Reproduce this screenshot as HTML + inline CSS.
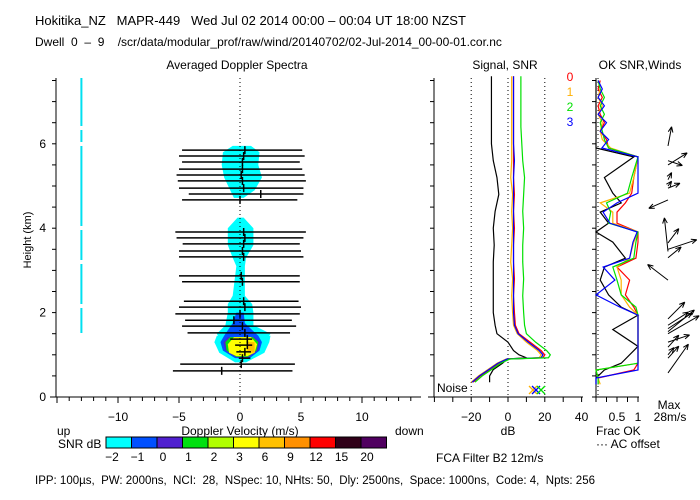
<!DOCTYPE html>
<html><head><meta charset="utf-8">
<style>
html,body{margin:0;padding:0;background:#fff;}
svg{display:block;font-family:"Liberation Sans",sans-serif;}
text{font-size:12px;white-space:pre;}
</style></head>
<body>
<svg id="chart" width="700" height="500" viewBox="0 0 700 500" xmlns="http://www.w3.org/2000/svg" xml:space="preserve">
<text x="35" y="25" style="font-size:13px">Hokitika_NZ   MAPR-449   Wed Jul 02 2014 00:00 – 00:04 UT 18:00 NZST</text>
<text x="35" y="46" style="font-size:12px">Dwell  0  –  9    /scr/data/modular_prof/raw/wind/20140702/02-Jul-2014_00-00-01.cor.nc</text>
<text x="237" y="69" text-anchor="middle">Averaged Doppler Spectra</text>
<text x="505" y="69" text-anchor="middle">Signal, SNR</text>
<text x="640" y="69" text-anchor="middle">OK SNR,Winds</text>
<text transform="translate(31,240) rotate(-90)" text-anchor="middle" style="font-size:11px">Height (km)</text>
<text x="240" y="435" text-anchor="middle">Doppler Velocity (m/s)</text>
<text x="57" y="435">up</text>
<text x="395" y="435">down</text>
<text x="508" y="435" text-anchor="middle">dB</text>
<text x="596" y="435">Frac OK</text>
<text x="596" y="448">··· AC offset</text>
<text x="669" y="409" text-anchor="middle">Max</text>
<text x="670" y="421" text-anchor="middle">28m/s</text>
<text x="58" y="448">SNR dB</text>
<text x="436" y="462">FCA Filter B2 12m/s</text>
<text x="437" y="392">Noise</text>
<text x="35" y="484" style="font-size:11.5px">IPP: 100µs,  PW: 2000ns,  NCI:  28,  NSpec: 10, NHts: 50,  Dly: 2500ns,  Space: 1000ns,  Code: 4,  Npts: 256</text>
<g id="g"></g>
</svg>
<script>
// ---- data ----
const specH =[5.85,5.71,5.57,5.40,5.26,5.12,4.95,4.81,4.67,3.91,3.77,3.63,3.46,3.32,2.87,2.73,2.27,2.13,1.97,1.82,1.68,1.52,1.37,1.23,1.07,0.92,0.78,0.62];
const specLo=[-4.75,-5.0,-4.75,-5.0,-5.2,-5.1,-5.0,-4.2,-4.75,-5.3,-5.2,-4.7,-5.0,-5.0,-5.0,-4.75,-4.6,-5.0,-5.3,-4.5,-4.75,-4.3,-0.8,-0.4,-0.3,-0.1,-4.9,-5.5];
const specHi=[5.1,5.3,4.9,5.1,5.3,5.4,5.2,5.2,4.7,5.4,5.2,4.9,5.0,5.2,4.9,4.9,4.8,5.0,4.9,4.25,4.6,4.1,1.0,1.0,0.9,0.85,4.5,4.3];
const specPk=[0.4,0.3,0.2,0.2,0.1,0.2,0.3,1.7,0.0,0.3,0.4,0.3,0.2,0.3,0.1,0.2,0.3,0.4,0.0,-0.5,0.2,0.4,0.6,0.6,0.4,0.2,0.1,-1.5];
const cyanBlobs=[
 [[4.72,-0.5,0.3],[4.9,-0.8,1.2],[5.2,-1.3,1.8],[5.5,-1.5,1.5],[5.8,-1.4,1.6],[5.95,-0.6,0.9]],
 [[1.3,-1.5,2.0],[1.5,-1.9,2.5],[1.7,-1.2,1.1],[2.0,-1.0,1.1],[2.2,-1.0,1.0],[2.4,-0.6,0.4],[3.1,-0.3,0.4],[3.3,-0.6,0.5],[3.6,-1.0,1.1],[4.0,-1.0,1.1],[4.25,-0.2,0.3]],
 [[0.82,-0.4,0.5],[1.05,-1.7,2.0],[1.3,-2.1,2.4],[1.45,-1.9,2.5]]
];
const blueBlob=[[0.92,-0.4,0.8],[1.1,-1.4,1.6],[1.3,-1.6,1.8],[1.45,-1.3,1.5],[1.75,-0.6,0.4],[2.0,-0.3,0.3]];
const indigoBlob=[[0.94,-0.3,0.7],[1.1,-1.2,1.45],[1.3,-1.35,1.6],[1.42,-1.0,1.2]];
const greenBlob=[[0.95,-0.3,0.65],[1.1,-1.1,1.35],[1.3,-1.2,1.5],[1.42,-0.8,1.05]];
const yellowBlob=[[0.97,-0.3,0.6],[1.05,-0.9,1.2],[1.25,-1.0,1.4],[1.42,-0.5,0.9]];
const orangeBlob=[[1.05,0.6,1.2],[1.3,0.6,1.2]];
const sigH=[0.35,0.5,0.65,0.8,0.9,0.93,1.0,1.1,1.3,1.5,1.7,2.0,2.4,2.8,3.2,3.6,4.0,4.4,4.8,5.2,5.6,6.0,6.4,6.8,7.2,7.6];
const sig0=[-19,-15,-10,-5,0,19,20,18,12,6,4,3.5,3,3.5,3,3,3.5,3,3.5,3,3,3,3,3,3,3];
const sig1=[-20,-16,-11,-6,-1,17,18,16,10,5,3,2.5,2,2.5,1.5,2,2.5,2,2.5,1.5,2,2,2,2,2,2];
const sig2=[-18,-14,-9,-4,1,22,23,21,15,10,9,8.5,8,8.5,8,8,8.5,8,8.5,9,8,7.5,7,7,7,7];
const sig3=[-19.5,-15.5,-10.5,-5.5,-0.5,18,19,17,11,5.5,3.5,3,3,3,3,3,3,3,3,3,3.5,3,3,3,3,3];
const noise=[-10,-10,-8,-3,-0.5,10,6,3,0,-6,-7,-8,-8,-8,-8,-7.5,-8,-7,-5,-6,-8,-9,-9,-9,-9,-9];
const okH=[0.3,0.45,0.64,0.8,1.2,1.6,1.94,2.13,2.42,2.77,3.08,3.29,3.67,3.91,4.12,4.38,4.6,4.83,5.2,5.69,5.9,6.1,6.3,6.5,6.7,6.9,7.1,7.3,7.5];
const ok0=[0.05,0.05,0.9,1,1,1,1,0.9,0.7,0.8,0.5,0.95,1,1,0.5,0.5,0.7,0.85,0.9,1,0.3,0.25,0.1,0.2,0.1,0.05,0.15,0.05,0.1];
const ok1=[0.1,0.05,0,1,1,1,1,0.8,0.6,0.6,0.5,0.8,0.9,1,0.4,0.4,0.1,0.8,0.9,1,0.35,0.15,0.1,0.15,0.05,0.15,0.05,0.1,0.05];
const ok2=[0.05,0.05,0,1,1,1,1,0.95,0.6,0.5,0.4,0.9,0.95,1,0.3,0.35,0.25,0.75,0.85,1,0.3,0.2,0.15,0.1,0.2,0.1,0.2,0.1,0.05];
const ok3=[0,0,1,1,1,1,1,0.57,0,0.45,0.17,0.8,0.88,0.98,0.33,0.17,0.5,1,1,1,0.14,0.3,0.1,0.25,0.05,0.2,0.05,0.15,0.05];
const okB=[0,0,0.2,0.6,1,0.4,1,0.6,0.3,0.1,0.2,0.7,0.4,0,0.3,0.1,0.6,0.4,0.2,0.9,0,0,0,0,0,0,0,0,0];
const windH=[0.57,0.92,1.0,1.18,1.3,1.5,1.55,1.62,1.7,1.85,2.77,3.3,3.45,3.5,3.65,4.67,4.95,5.0,5.15,5.5,5.6,5.95];
const windU=[17,9,5,9,18,26,22,20,17,14,-17,11,-3,24,9,-16,10,3,3,16,12,3];
const windV=[24,10,6,10,6,15,18,13,11,14,13,9,28,8,12,-7,4,4,6,10,-4,16];
const cbLabels=["-2","-1","0","1","2","3","6","9","12","15","20"];
const cbColors=["#00ffff","#0050ff","#5020d0","#00e010","#b0ff00","#ffff00","#ffc000","#ff9000","#ff0000","#300018","#500060"];
const dbTicks=[-20,0,20,40];
const velTicks=[-10,-5,0,5,10];
const hTicks=[0,2,4,6];

const yH=h=>397-h*42.2;
const xV=v=>240+v*12.2;
const xDB=d=>508+d*1.84;
const xF=f=>596+f*42;
const NS="http://www.w3.org/2000/svg";
const g=document.getElementById('g');
function mk(tag,at,parent){const e=document.createElementNS(NS,tag);for(const k in at)e.setAttribute(k,at[k]);(parent||g).appendChild(e);return e;}

function blob(pts,color,name){
  const L=pts.map(p=>xV(p[1])+','+yH(p[0]));
  const R=pts.slice().reverse().map(p=>xV(p[2])+','+yH(p[0]));
  const e=mk('polygon',{points:L.concat(R).join(' '),fill:color});
  
  
}
cyanBlobs.forEach(b=>blob(b,'#00ffff','snr-region-cyan'));
blob(blueBlob,'#0050ff','snr-region-blue');
blob(indigoBlob,'#5020d0','snr-region-indigo');
blob(greenBlob,'#00e010','snr-region-green');
blob(yellowBlob,'#ffff00','snr-region-yellow');
blob(orangeBlob,'#ffc000','snr-region-orange');
{const e=mk('line',{x1:xV(-13),x2:xV(-13),y1:78,y2:333,stroke:'#00e0f0','stroke-width':2,'stroke-dasharray':'48 4 12 4 80 4 30 4 40 4 40'});

}
{const e=mk('line',{x1:xV(0),x2:xV(0),y1:78,y2:397,stroke:'#000','stroke-dasharray':'1 3'});

}
specH.forEach((h,i)=>{
  const l=mk('line',{x1:xV(specLo[i]),x2:xV(specHi[i]),y1:yH(h),y2:yH(h),stroke:'#000','stroke-width':1.5});
  
  
  const p=mk('line',{x1:xV(specPk[i]),x2:xV(specPk[i]),y1:yH(h)-4,y2:yH(h)+4,stroke:'#000','stroke-width':1.5});
  
  
});
mk('line',{x1:56,x2:56,y1:78,y2:397,stroke:'#000'});
mk('line',{x1:50,x2:421,y1:397,y2:397,stroke:'#000'});
for(let v=-15;v<=14;v++){const x=xV(v);if(x<50||x>421)continue;mk('line',{x1:x,x2:x,y1:397,y2:v%5==0?403:401,stroke:'#000'});}
velTicks.forEach(v=>{const t=mk('text',{x:xV(v),y:421,'text-anchor':'middle'});t.textContent=v<0?'−'+(-v):v;

});
for(let h=0;h<=7.5;h+=0.5){[56,434,596].forEach(x=>mk('line',{x1:x-4,x2:x,y1:yH(h),y2:yH(h),stroke:'#000'}));}
hTicks.forEach(h=>{const t=mk('text',{x:46,y:yH(h)+4,'text-anchor':'end'});t.textContent=h;

});

mk('line',{x1:434,x2:434,y1:78,y2:397,stroke:'#000'});
mk('line',{x1:428,x2:583,y1:397,y2:397,stroke:'#000'});
for(let d=-40;d<=40;d+=10)mk('line',{x1:xDB(d),x2:xDB(d),y1:397,y2:402,stroke:'#000'});
[-20,0,20].forEach(d=>{const e=mk('line',{x1:xDB(d),x2:xDB(d),y1:78,y2:397,stroke:'#000','stroke-dasharray':'1 3'});

});
dbTicks.forEach(d=>{const t=mk('text',{x:xDB(d),y:421,'text-anchor':'middle'});t.textContent=d<0?'−'+(-d):d;

});
function prof(vals,hs,fx,color,name){
  const e=mk('polyline',{points:vals.map((v,i)=>fx(v)+','+yH(hs[i])).join(' '),fill:'none',stroke:color,'stroke-width':1.2});
  
  
}
prof(noise,sigH,xDB,'#000','noise-profile');
prof(sig1,sigH,xDB,'#ffb000','signal-beam-1');
prof(sig0,sigH,xDB,'#ff0000','signal-beam-0');
prof(sig3,sigH,xDB,'#0000ff','signal-beam-3');
prof(sig2,sigH,xDB,'#00e000','signal-beam-2');
[['#ffb000',533],['#0000ff',536],['#00e000',541]].forEach(c=>{
  const e=mk('path',{d:`M${c[1]-4},386 l8,8 M${c[1]+4},386 l-8,8`,stroke:c[0],'stroke-width':1.3});
  
  });
[['0','#ff0000',81],['1','#ffb000',96],['2','#00e000',111],['3','#0000ff',126]].forEach(c=>{
  const t=mk('text',{x:570,y:c[2],'text-anchor':'middle'});t.textContent=c[0];
  t.style.fill=c[1];
  
  });

mk('line',{x1:596,x2:596,y1:78,y2:397,stroke:'#000'});
mk('line',{x1:593,x2:639,y1:397,y2:397,stroke:'#000'});
for(let f=0;f<=1;f+=0.25)mk('line',{x1:xF(f),x2:xF(f),y1:397,y2:402,stroke:'#000'});
{const e=mk('line',{x1:598,x2:598,y1:78,y2:397,stroke:'#000','stroke-dasharray':'1 3'});

}
[['0.5',0.5],['1',1]].forEach(c=>{const t=mk('text',{x:xF(c[1]),y:421,'text-anchor':'middle'});t.textContent=c[0];

});
prof(okB,okH,xF,'#000','ok-wind-fraction');
prof(ok0,okH,xF,'#ff0000','ok-beam-0');
prof(ok1,okH,xF,'#ffb000','ok-beam-1');
prof(ok2,okH,xF,'#00e000','ok-beam-2');
prof(ok3,okH,xF,'#0000ff','ok-beam-3');

const WS=1.2;
windH.forEach((h,i)=>{
  const x0=668,y0=yH(h),x1=x0+windU[i]*WS,y1=y0-windV[i]*WS;
  const a=Math.atan2(y1-y0,x1-x0),L=6;
  const d=`M${x0},${y0} L${x1},${y1} M${x1},${y1} L${x1-L*Math.cos(a-0.4)},${y1-L*Math.sin(a-0.4)} M${x1},${y1} L${x1-L*Math.cos(a+0.4)},${y1-L*Math.sin(a+0.4)}`;
  const e=mk('path',{d:d,stroke:'#000','stroke-width':1,fill:'none'});
  
  
});

const cbX=106,cbW=25.5;
cbColors.forEach((c,i)=>{
  const r=mk('rect',{x:cbX+i*cbW,y:437,width:cbW,height:11,fill:c,stroke:'#000','stroke-width':1});
  
  
  const t=mk('text',{x:cbX+i*cbW+6,y:461,'text-anchor':'middle'});t.textContent=cbLabels[i].replace('-','−');
  
  
});
</script>
</body></html>
